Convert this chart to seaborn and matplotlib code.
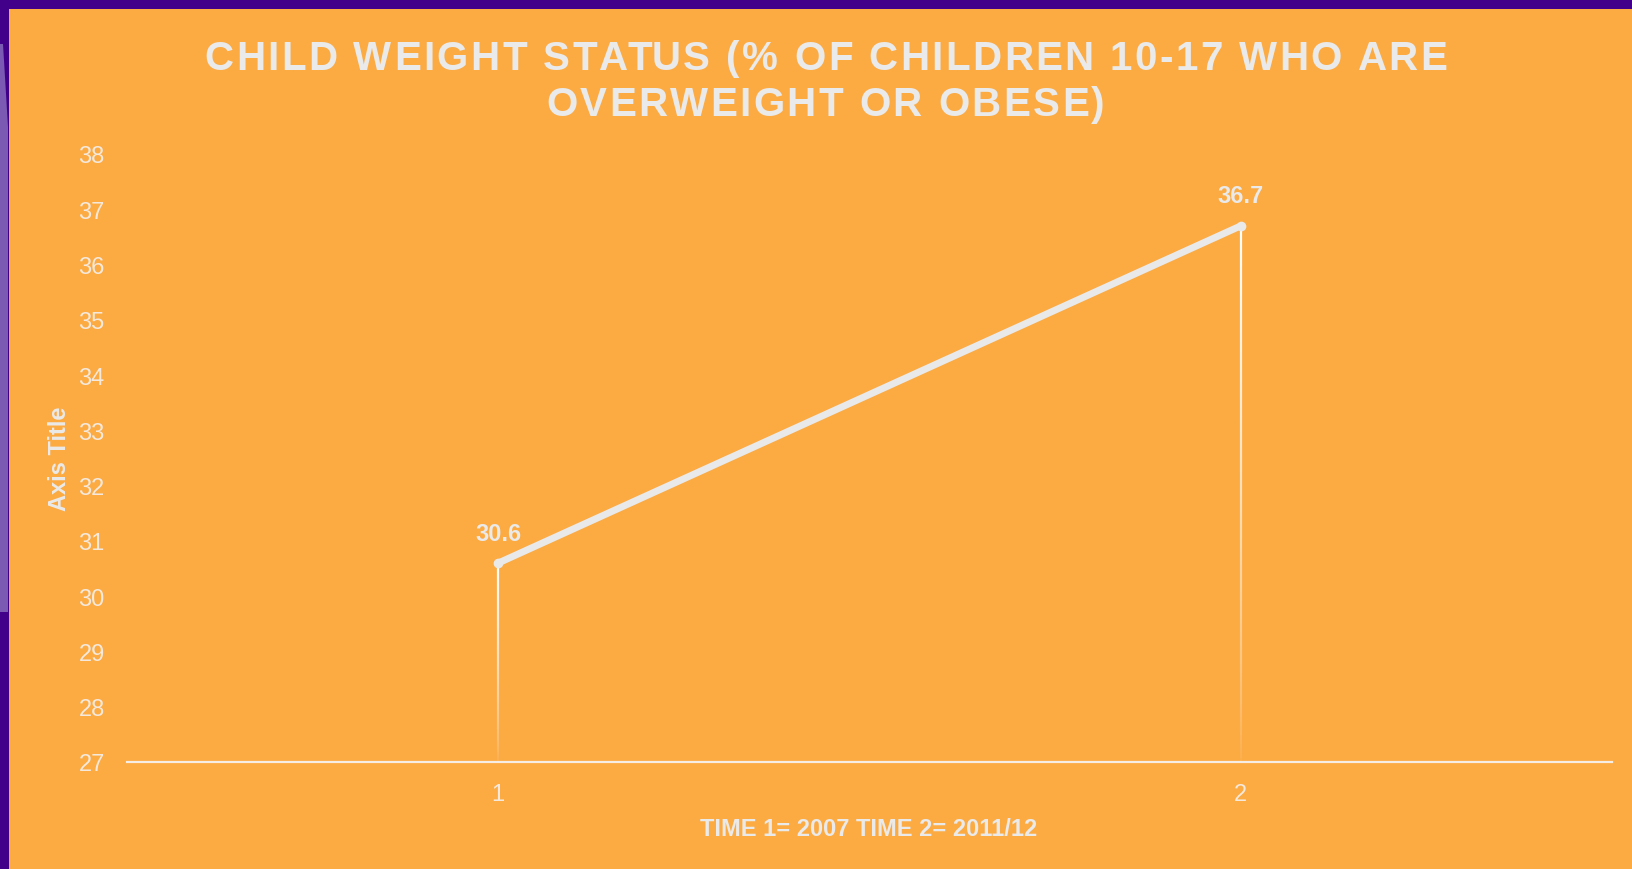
import numpy as np
import matplotlib
matplotlib.use("Agg")
import matplotlib.pyplot as plt
from matplotlib.patches import Rectangle, Polygon
from matplotlib.collections import LineCollection
import seaborn as sns
import pandas as pd

# ---- data -------------------------------------------------------------
time_points = [1, 2]
pct_overweight = [30.6, 36.7]
y_ticks = list(range(27, 39))
x_tick_labels = ["1", "2"]

title_lines = ["CHILD WEIGHT STATUS (% OF CHILDREN 10-17 WHO ARE",
               "OVERWEIGHT OR OBESE)"]
x_title = "TIME 1= 2007 TIME 2= 2011/12"
y_title = "Axis Title"

# ---- style ------------------------------------------------------------
W, H, DPI = 1633, 870, 100
ORANGE = "#FCAA42"
PURPLE = "#42008A"
PURPLE_LIGHT = "#7A5AB2"
TEXT = "#EAEAEA"
TICK = "#F4E9DC"
LINE = "#E9E9E9"

sns.set_theme(style="white")
plt.rcParams["font.family"] = ["Liberation Sans", "DejaVu Sans"]

fig = plt.figure(figsize=(W / DPI, H / DPI), dpi=DPI)
fig.patch.set_facecolor(PURPLE)

# orange panel with a thin purple frame on the top and left
fig.add_artist(Rectangle((9 / W, 0), 1, 1 - 10 / H, transform=fig.transFigure,
                         facecolor=ORANGE, edgecolor="none", zorder=0))
fig.add_artist(Polygon([(0, 1 - 45 / H), (3 / W, 1 - 45 / H), (8 / W, 1 - 128 / H),
                        (8 / W, 1 - 613 / H), (0, 1 - 613 / H)],
                       closed=True, transform=fig.transFigure,
                       facecolor=PURPLE_LIGHT, edgecolor="none", zorder=0))

# axes placed in pixel terms
x0, x1 = 127, 1612
y_top, y_bot = 155, 763
ax = fig.add_axes([x0 / W, 1 - y_bot / H, (x1 - x0) / W, (y_bot - y_top) / H])
ax.set_facecolor("none")

df = pd.DataFrame({"time": time_points, "pct": pct_overweight})

# fading drop lines from each point down to the baseline
ymin = y_ticks[0]
for xv, yv in zip(df["time"], df["pct"]):
    n = 120
    ys = np.linspace(ymin, yv, n + 1)
    segs = [[(xv, ys[i]), (xv, ys[i + 1])] for i in range(n)]
    frac = (np.arange(n) + 0.5) / n
    alphas = 0.03 + 0.97 * frac ** 0.7
    cols = [(1, 1, 1, a) for a in alphas]
    ax.add_collection(LineCollection(segs, colors=cols, linewidths=1.6, zorder=2))

sns.lineplot(data=df, x="time", y="pct", ax=ax, color=LINE, linewidth=5.0,
             marker="o", markersize=7, markeredgewidth=0,
             solid_capstyle="round", zorder=3)

for xv, yv in zip(df["time"], df["pct"]):
    ax.annotate(f"{yv:.1f}", (xv, yv), xytext=(0, 21.5), textcoords="offset points",
                ha="center", va="center", fontsize=17, fontweight="bold",
                color=TEXT, zorder=4)

ax.set_xlim(0.5, 2.5)
ax.set_ylim(y_ticks[0], y_ticks[-1])
ax.set_yticks(y_ticks)
ax.set_yticklabels([str(t) for t in y_ticks])
ax.set_xticks(time_points)
ax.set_xticklabels(x_tick_labels)
ax.tick_params(axis="y", length=0, labelsize=17, labelcolor=TICK, pad=16)
ax.tick_params(axis="x", length=0, labelsize=17, labelcolor=TICK, pad=15)
ax.grid(False)
for side in ["top", "right", "left"]:
    ax.spines[side].set_visible(False)
ax.spines["bottom"].set_color("#F6EEE4")
ax.spines["bottom"].set_linewidth(1.6)

ax.set_xlabel(x_title, fontsize=17, fontweight="bold", color=TEXT)
ax.xaxis.set_label_coords((869 - x0) / (x1 - x0), (y_bot - 830) / (y_bot - y_top))
ax.xaxis.label.set_va("center")
ax.set_ylabel(y_title, fontsize=17, fontweight="bold", color=TEXT)
ax.yaxis.set_label_coords((59 - x0) / (x1 - x0), (y_bot - 459) / (y_bot - y_top))
ax.yaxis.label.set_va("center")
ax.yaxis.label.set_ha("center")

# ---- letter-spaced title ----------------------------------------------
renderer = fig.canvas.get_renderer()
TITLE_SIZE = 29
TRACK = 2.45  # extra pixels between characters


def text_width(s):
    t = fig.text(0, 0, "H" + s + "H", fontsize=TITLE_SIZE, fontweight="bold")
    w = t.get_window_extent(renderer).width
    t.remove()
    return w


base_w = text_width("")


def spaced_line(s, cx, baseline):
    adv = [text_width(s[:i]) - base_w for i in range(len(s) + 1)]
    total = adv[-1] + TRACK * (len(s) - 1)
    start = cx - total / 2
    for i, ch in enumerate(s):
        if ch == " ":
            continue
        px = start + adv[i] + TRACK * i
        fig.text(px / W, 1 - baseline / H, ch, fontsize=TITLE_SIZE,
                 fontweight="bold", color=TEXT, ha="left", va="baseline")


spaced_line(title_lines[0], 825.5, 69.5)
spaced_line(title_lines[1], 825.5, 115.5)

fig.savefig("out.png", dpi=DPI, facecolor=fig.get_facecolor())
